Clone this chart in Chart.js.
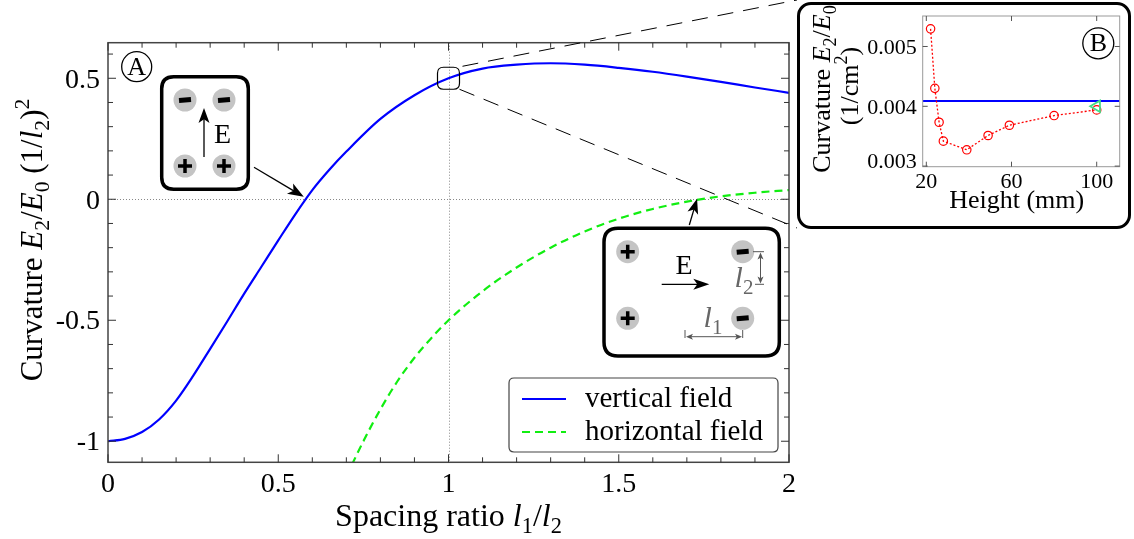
<!DOCTYPE html>
<html>
<head>
<meta charset="utf-8">
<script src="https://cdn.jsdelivr.net/npm/chart.js@4"></script>
<style>
  html, body { margin: 0; padding: 0; background: #fff; }
  #wrap { position: relative; width: 1134px; height: 539px; }
  #main { position: absolute; left: 0; top: 0; }
  #insetBox { position: absolute; left: 797px; top: 2px; width: 328px; height: 221px;
              border: 3px solid #000; border-radius: 14px; background: #fff; overflow: hidden; }
  #inset { position: absolute; left: 0; top: 0; }
</style>
</head>
<body>
<div id="wrap">
  <canvas id="main" width="1134" height="539" style="width:1134px;height:539px"></canvas>
  <div id="insetBox"><canvas id="inset" width="328" height="221" style="width:328px;height:221px"></canvas></div>
</div>
<script>
// panel A: curvature vs spacing ratio
const vertX = [0, 0.05, 0.1, 0.15, 0.2, 0.25, 0.3, 0.35, 0.4, 0.45, 0.5, 0.55, 0.6, 0.65, 0.7, 0.8, 0.9, 1.0, 1.1, 1.2, 1.3, 1.4, 1.5, 1.6, 1.7, 1.8, 1.9, 2.0]
const vertY = [-1, -0.99, -0.962, -0.91, -0.832, -0.73, -0.618, -0.505, -0.39, -0.28, -0.17, -0.062, 0.038, 0.122, 0.197, 0.332, 0.43, 0.5, 0.54, 0.556, 0.562, 0.556, 0.543, 0.527, 0.507, 0.485, 0.462, 0.44]
const horizX = [0.7, 0.75, 0.8, 0.85, 0.9, 0.95, 1.0, 1.1, 1.2, 1.3, 1.4, 1.5, 1.6, 1.7, 1.8, 1.9, 2.0]
const horizY = [-1.145, -1.0, -0.868, -0.752, -0.655, -0.573, -0.5, -0.38, -0.282, -0.2, -0.133, -0.08, -0.04, -0.01, 0.012, 0.027, 0.038]
const xTickVals = [0, 0.5, 1, 1.5, 2]
const yTickVals = [-1, -0.5, 0, 0.5]

// panel B: measured curvature vs height
const heights = [22, 24, 26, 28, 39, 49, 59, 80, 100]
const measured = [0.005295, 0.0043, 0.003733, 0.003417, 0.003273, 0.003512, 0.003683, 0.003845, 0.00394]
const theoryLevel = 0.00409
const simHeight = [100]
const simValue = [0.004]
const insetXMin = 18.3
const insetXMax = 110.8
const insetXTicks = [20, 60, 100]
const insetYTicks = [0.003, 0.004, 0.005]

const FAM = "'Liberation Serif', serif"
Chart.defaults.font.family = FAM
Chart.defaults.color = '#000'

function drawRich(ctx, parts, x, y, size, align) {
  const fonts = parts.map(p => (p.it ? 'italic ' : '') + ((p.sub || p.sup) ? size * 0.7 : size) + 'px ' + FAM)
  let w = 0
  parts.forEach((p, i) => { ctx.font = fonts[i]; w += ctx.measureText(p.t).width })
  let cx = align === 'center' ? x - w / 2 : (align === 'right' ? x - w : x)
  ctx.textAlign = 'left'
  ctx.textBaseline = 'alphabetic'
  parts.forEach((p, i) => {
    ctx.font = fonts[i]
    const dy = p.sub ? size * 0.22 : (p.sup ? -size * 0.42 : 0)
    ctx.fillText(p.t, cx, y + dy)
    cx += ctx.measureText(p.t).width
  })
}

function rrect(ctx, x, y, w, h, r) {
  ctx.beginPath()
  ctx.moveTo(x + r, y)
  ctx.lineTo(x + w - r, y); ctx.quadraticCurveTo(x + w, y, x + w, y + r)
  ctx.lineTo(x + w, y + h - r); ctx.quadraticCurveTo(x + w, y + h, x + w - r, y + h)
  ctx.lineTo(x + r, y + h); ctx.quadraticCurveTo(x, y + h, x, y + h - r)
  ctx.lineTo(x, y + r); ctx.quadraticCurveTo(x, y, x + r, y)
  ctx.closePath()
}

function arrow(ctx, x0, y0, x1, y1, head, half, color, width) {
  const a = Math.atan2(y1 - y0, x1 - x0)
  const c = Math.cos(a), s = Math.sin(a)
  const bx = x1 - head * c, by = y1 - head * s
  ctx.strokeStyle = color; ctx.fillStyle = color; ctx.lineWidth = width
  ctx.beginPath(); ctx.moveTo(x0, y0); ctx.lineTo(x1 - head * 0.7 * c, y1 - head * 0.7 * s); ctx.stroke()
  ctx.beginPath()
  ctx.moveTo(x1, y1)
  ctx.lineTo(bx + half * s, by - half * c)
  ctx.lineTo(x1 - head * 0.75 * c, y1 - head * 0.75 * s)
  ctx.lineTo(bx - half * s, by + half * c)
  ctx.closePath(); ctx.fill()
}

function charge(ctx, cx, cy, sign) {
  ctx.fillStyle = '#c4c4c4'
  ctx.beginPath(); ctx.arc(cx, cy, 11.5, 0, 2 * Math.PI); ctx.fill()
  ctx.strokeStyle = '#000'; ctx.lineCap = 'butt'
  ctx.beginPath()
  if (sign > 0) {
    ctx.lineWidth = 3.5
    ctx.moveTo(cx - 7, cy); ctx.lineTo(cx + 7, cy)
    ctx.moveTo(cx, cy - 7); ctx.lineTo(cx, cy + 7)
  } else {
    ctx.lineWidth = 5
    ctx.moveTo(cx - 6, cy + 0.5); ctx.lineTo(cx + 6, cy - 0.5)
  }
  ctx.stroke()
}

function circledLetter(ctx, cx, cy, r, letter) {
  ctx.strokeStyle = '#000'; ctx.lineWidth = 1.3
  ctx.beginPath(); ctx.arc(cx, cy, r, 0, 2 * Math.PI); ctx.stroke()
  ctx.fillStyle = '#000'; ctx.font = '26px ' + FAM
  ctx.textAlign = 'center'; ctx.textBaseline = 'middle'
  ctx.fillText(letter, cx, cy + 1)
}

// tick labels drawn at the scale positions, in the serif face
function tickLabels(ctx, scale, values, fmt, size, place) {
  ctx.fillStyle = '#000'
  ctx.font = size + 'px ' + FAM
  ctx.textBaseline = 'alphabetic'
  values.forEach(v => {
    const p = scale.getPixelForValue(v)
    const t = fmt(v)
    if (place.axis === 'x') {
      ctx.textAlign = 'center'
      ctx.fillText(t, p, place.base)
    } else {
      ctx.textAlign = 'right'
      ctx.fillText(t, place.right, Math.min(p + size * 0.33, place.maxBase))
    }
  })
}

const mainDecor = {
  id: 'mainDecor',
  beforeDatasetsDraw(chart) {
    const { ctx, chartArea: a, scales: { x, y } } = chart
    ctx.save()
    ctx.strokeStyle = '#888'; ctx.lineWidth = 1; ctx.setLineDash([1, 2])
    const y0 = Math.round(y.getPixelForValue(0)) + 0.5
    const x1 = Math.round(x.getPixelForValue(1)) + 0.5
    ctx.beginPath()
    ctx.moveTo(a.left, y0); ctx.lineTo(a.right, y0)
    ctx.moveTo(x1, a.top); ctx.lineTo(x1, a.bottom)
    ctx.stroke()
    ctx.restore()
  },
  afterDraw(chart) {
    const { ctx, chartArea: a, scales: { x, y } } = chart
    ctx.save()
    // frame
    ctx.strokeStyle = '#444'; ctx.lineWidth = 1.5
    ctx.strokeRect(a.left, a.top, a.right - a.left, a.bottom - a.top)
    // inward ticks
    ctx.lineWidth = 1; ctx.strokeStyle = '#333'
    ctx.beginPath()
    for (let i = 0; i <= 20; i++) {
      const px = x.getPixelForValue(i / 10)
      const len = i % 5 === 0 ? 8 : 5
      ctx.moveTo(px, a.bottom); ctx.lineTo(px, a.bottom - len)
      ctx.moveTo(px, a.top); ctx.lineTo(px, a.top + len)
    }
    for (let i = -10; i <= 6; i++) {
      const py = y.getPixelForValue(i / 10)
      const len = i % 5 === 0 ? 8 : 5
      ctx.moveTo(a.left, py); ctx.lineTo(a.left + len, py)
      ctx.moveTo(a.right, py); ctx.lineTo(a.right - len, py)
    }
    ctx.stroke()

    tickLabels(ctx, x, xTickVals, v => String(v), 28, { axis: 'x', base: 491.5 })
    tickLabels(ctx, y, yTickVals, v => String(v), 28, { axis: 'y', right: 100, maxBase: 1e9 })

    // axis titles
    ctx.fillStyle = '#000'
    drawRich(ctx, [{ t: 'Spacing ratio ' }, { t: 'l', it: true }, { t: '1', sub: true }, { t: '/' }, { t: 'l', it: true }, { t: '2', sub: true }],
      (a.left + a.right) / 2, 526, 32, 'center')
    ctx.save()
    ctx.translate(42, 240)
    ctx.rotate(-Math.PI / 2)
    drawRich(ctx, [{ t: 'Curvature ' }, { t: 'E', it: true }, { t: '2', sub: true }, { t: '/' }, { t: 'E', it: true }, { t: '0', sub: true },
      { t: ' (1/' }, { t: 'l', it: true }, { t: '2', sub: true }, { t: ')' }, { t: '2', sup: true }], 0, 0, 31, 'center')
    ctx.restore()

    // legend
    ctx.fillStyle = '#fff'; ctx.strokeStyle = '#444'; ctx.lineWidth = 1.2
    rrect(ctx, 509, 378, 269, 74, 5); ctx.fill(); ctx.stroke()
    chart.data.datasets.forEach((ds, i) => {
      const ly = 399 + i * 33
      ctx.strokeStyle = ds.borderColor; ctx.lineWidth = 2
      ctx.setLineDash(ds.borderDash || [])
      ctx.beginPath(); ctx.moveTo(522, ly); ctx.lineTo(566, ly); ctx.stroke()
      ctx.setLineDash([])
      ctx.fillStyle = '#000'; ctx.font = '29px ' + FAM
      ctx.textAlign = 'left'; ctx.textBaseline = 'middle'
      ctx.fillText(ds.label, 585, ly)
    })

    // panel label
    circledLetter(ctx, 136.7, 66.7, 15, 'A')

    // zoom marker and dashed guide lines to inset
    const zx = x.getPixelForValue(1), zy = y.getPixelForValue(0.5)
    ctx.strokeStyle = '#000'; ctx.lineWidth = 1.2
    rrect(ctx, zx - 11, zy - 11, 22, 22, 6); ctx.stroke()
    ctx.setLineDash([16, 10]); ctx.lineWidth = 1
    ctx.beginPath()
    ctx.moveTo(zx + 14, zy - 12); ctx.lineTo(797, 0)
    ctx.moveTo(zx + 11, zy + 11); ctx.lineTo(797, 228)
    ctx.stroke()
    ctx.setLineDash([])

    // vertical field sketch
    ctx.fillStyle = '#fff'; ctx.strokeStyle = '#000'; ctx.lineWidth = 3.5
    rrect(ctx, 161.7, 76.7, 86.6, 112.6, 12); ctx.fill(); ctx.stroke()
    charge(ctx, 185, 100, -1); charge(ctx, 224, 100, -1)
    charge(ctx, 185, 166, 1); charge(ctx, 224, 166, 1)
    arrow(ctx, 204, 157, 204, 108, 15, 5.5, '#000', 1.3)
    ctx.fillStyle = '#000'; ctx.font = '28px ' + FAM; ctx.textAlign = 'center'; ctx.textBaseline = 'middle'
    ctx.fillText('E', 222.5, 136)
    arrow(ctx, 254, 167.3, x.getPixelForValue(0.575), y.getPixelForValue(0.01), 16, 6, '#000', 1.3)

    // horizontal field sketch
    ctx.fillStyle = '#fff'; ctx.strokeStyle = '#000'; ctx.lineWidth = 3.5
    rrect(ctx, 604, 228.3, 175.3, 127.7, 14); ctx.fill(); ctx.stroke()
    charge(ctx, 627.7, 251.7, 1); charge(ctx, 627.7, 318.3, 1)
    charge(ctx, 742.7, 251.7, -1); charge(ctx, 742.7, 318.3, -1)
    arrow(ctx, 661.7, 284.3, 709.3, 284.3, 16, 5.5, '#000', 1.3)
    ctx.fillStyle = '#000'; ctx.font = '28px ' + FAM; ctx.textAlign = 'center'; ctx.textBaseline = 'middle'
    ctx.fillText('E', 684, 266.5)
    arrow(ctx, 689.3, 225, x.getPixelForValue(1.73), y.getPixelForValue(0.002), 15, 5.5, '#000', 1.3)
    // dimension marks
    const g = '#555'
    ctx.strokeStyle = g; ctx.lineWidth = 1
    ctx.beginPath()
    ctx.moveTo(753, 251.7); ctx.lineTo(764, 251.7)
    ctx.moveTo(755, 284.3); ctx.lineTo(764, 284.3)
    ctx.moveTo(685, 330); ctx.lineTo(685, 338)
    ctx.moveTo(742.7, 330); ctx.lineTo(742.7, 338)
    ctx.stroke()
    arrow(ctx, 760.5, 268, 760.5, 252.5, 7, 3, g, 1)
    arrow(ctx, 760.5, 268, 760.5, 283.5, 7, 3, g, 1)
    arrow(ctx, 714, 336.7, 686, 336.7, 7, 3, g, 1)
    arrow(ctx, 714, 336.7, 742, 336.7, 7, 3, g, 1)
    ctx.fillStyle = '#666'
    drawRich(ctx, [{ t: 'l', it: true }, { t: '2', sub: true }], 744, 287, 30, 'center')
    drawRich(ctx, [{ t: 'l', it: true }, { t: '1', sub: true }], 713, 327, 30, 'center')
    ctx.restore()
  }
}

new Chart(document.getElementById('main'), {
  type: 'line',
  data: {
    datasets: [
      {
        label: 'vertical field',
        data: vertX.map((v, i) => ({ x: v, y: vertY[i] })),
        borderColor: '#0000ff',
        borderWidth: 2.2,
        pointRadius: 0,
        cubicInterpolationMode: 'monotone',
        fill: false,
      },
      {
        label: 'horizontal field',
        data: horizX.map((v, i) => ({ x: v, y: horizY[i] })),
        borderColor: '#11ee11',
        borderWidth: 2.2,
        borderDash: [8, 5],
        pointRadius: 0,
        cubicInterpolationMode: 'monotone',
        fill: false,
      },
    ],
  },
  options: {
    responsive: false,
    animation: false,
    events: [],
    layout: { padding: { left: 0, top: 42.7, right: 345, bottom: 0 } },
    plugins: { legend: { display: false }, tooltip: { enabled: false } },
    scales: {
      x: {
        type: 'linear', min: 0, max: 2,
        afterBuildTicks: s => { s.ticks = xTickVals.map(v => ({ value: v })) },
        afterFit: s => { s.height = 76.7 },
        grid: { display: false },
        border: { display: false },
        ticks: { display: false },
      },
      y: {
        type: 'linear', min: -1.087, max: 0.647,
        afterBuildTicks: s => { s.ticks = yTickVals.map(v => ({ value: v })) },
        afterFit: s => { s.width = 108 },
        grid: { display: false },
        border: { display: false },
        ticks: { display: false },
      },
    },
  },
  plugins: [mainDecor],
})

const insetDecor = {
  id: 'insetDecor',
  afterDraw(chart) {
    const { ctx, chartArea: a, scales: { x, y } } = chart
    ctx.save()
    ctx.strokeStyle = '#999'; ctx.lineWidth = 1
    ctx.strokeRect(a.left, a.top, a.right - a.left, a.bottom - a.top)
    ctx.strokeStyle = '#555'
    ctx.beginPath()
    insetXTicks.forEach(v => {
      const px = x.getPixelForValue(v)
      ctx.moveTo(px, a.bottom); ctx.lineTo(px, a.bottom - 5)
      ctx.moveTo(px, a.top); ctx.lineTo(px, a.top + 5)
    })
    insetYTicks.forEach(v => {
      const py = y.getPixelForValue(v)
      ctx.moveTo(a.left, py); ctx.lineTo(a.left + 5, py)
      ctx.moveTo(a.right, py); ctx.lineTo(a.right - 5, py)
    })
    ctx.stroke()
    tickLabels(ctx, x, insetXTicks, v => String(v), 22, { axis: 'x', base: 183 })
    tickLabels(ctx, y, insetYTicks, v => v.toFixed(3), 22, { axis: 'y', right: 116.7, maxBase: a.bottom + 1.5 })
    circledLetter(ctx, 298.3, 38.3, 15.5, 'B')
    ctx.fillStyle = '#000'
    drawRich(ctx, [{ t: 'Height (mm)' }], 216.7, 203.3, 26, 'center')
    ctx.save()
    ctx.translate(30, 84)
    ctx.rotate(-Math.PI / 2)
    drawRich(ctx, [{ t: 'Curvature ' }, { t: 'E', it: true }, { t: '2', sub: true }, { t: '/' }, { t: 'E', it: true }, { t: '0', sub: true }], 0, 0, 26, 'center')
    ctx.restore()
    ctx.save()
    ctx.translate(58, 81)
    ctx.rotate(-Math.PI / 2)
    drawRich(ctx, [{ t: '(1/cm' }, { t: '2', sup: true }, { t: ')' }], 0, 0, 26, 'center')
    ctx.restore()
    ctx.restore()
  }
}

new Chart(document.getElementById('inset'), {
  type: 'line',
  data: {
    datasets: [
      {
        label: 'simulation',
        data: simHeight.map((v, i) => ({ x: v, y: simValue[i] })),
        showLine: false,
        pointStyle: 'triangle',
        pointRotation: -90,
        pointRadius: 6.5,
        pointBorderWidth: 1.8,
        pointBorderColor: '#44dd88',
        pointBackgroundColor: 'rgba(0,0,0,0)',
      },
      {
        label: 'measured',
        data: heights.map((v, i) => ({ x: v, y: measured[i] })),
        borderColor: '#ff0000',
        borderWidth: 1.3,
        borderDash: [2, 2],
        tension: 0,
        pointRadius: 4.2,
        pointBorderWidth: 1.2,
        pointBorderColor: '#ff0000',
        pointBackgroundColor: 'rgba(0,0,0,0)',
      },
      {
        label: 'theory',
        data: [{ x: insetXMin, y: theoryLevel }, { x: insetXMax, y: theoryLevel }],
        borderColor: '#0000ff',
        borderWidth: 2,
        pointRadius: 0,
      },
    ],
  },
  options: {
    responsive: false,
    animation: false,
    events: [],
    layout: { padding: { left: 0, top: 11, right: 6, bottom: 0 } },
    plugins: { legend: { display: false }, tooltip: { enabled: false } },
    scales: {
      x: {
        type: 'linear', min: insetXMin, max: insetXMax,
        afterBuildTicks: s => { s.ticks = insetXTicks.map(v => ({ value: v })) },
        afterFit: s => { s.height = 59.3 },
        grid: { display: false },
        border: { display: false },
        ticks: { display: false },
      },
      y: {
        type: 'linear', min: 0.00299, max: 0.00551,
        afterBuildTicks: s => { s.ticks = insetYTicks.map(v => ({ value: v })) },
        afterFit: s => { s.width = 122.7 },
        grid: { display: false },
        border: { display: false },
        ticks: { display: false },
      },
    },
  },
  plugins: [insetDecor],
})
</script>
</body>
</html>
